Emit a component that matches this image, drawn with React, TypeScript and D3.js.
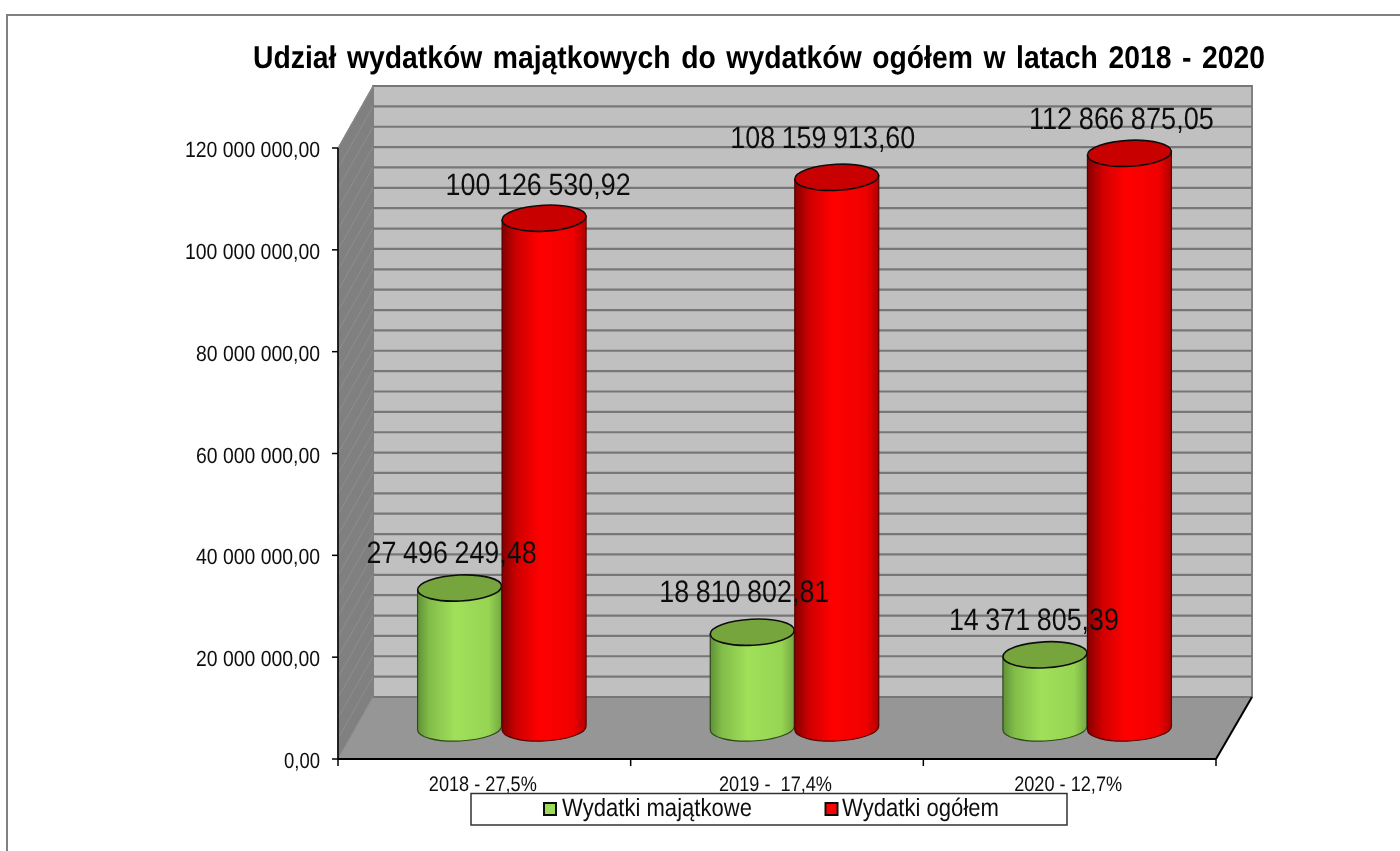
import React from "react";
import * as d3 from "d3";

const categories = ["2018 - 27,5%", "2019 -  17,4%", "2020 - 12,7%"];
const seriesNames = ["Wydatki majątkowe", "Wydatki ogółem"];
const wydatkiMajatkowe = [27496249.48, 18810802.81, 14371805.39];
const wydatkiOgolem = [100126530.92, 108159913.6, 112866875.05];
const valueLabelsMajatkowe = ["27 496 249,48", "18 810 802,81", "14 371 805,39"];
const valueLabelsOgolem = ["100 126 530,92", "108 159 913,60", "112 866 875,05"];
const yTickLabels = ["0,00", "20 000 000,00", "40 000 000,00", "60 000 000,00", "80 000 000,00", "100 000 000,00", "120 000 000,00"];
const title = "Udział wydatków majątkowych do wydatków ogółem w latach 2018 - 2020";

const FONT = "'Liberation Sans', Arial, sans-serif";
const left = 338, right = 1216, y0 = 759, yTop = 148;
const dx = 35, dy = -62;

const y = d3.scaleLinear().domain([0, 120000000]).range([y0, yTop]);
const x = d3.scaleBand<string>().domain(categories).range([left, right]);
const xs = d3.scaleBand<string>().domain(seriesNames).range([-84.5, 84.5]);
const minor = d3.range(0, 120000001, 4000000);
const major = d3.range(0, 120000001, 20000000);

const RX = 42, RY = 13, TILT = -2.8, LIFT = 2;

function Cylinder({ cx, v, grad, top, edge }: { cx: number; v: number; grad: string; top: string; edge: string }) {
  const ty = y(v) + dy / 2;
  const by = y(0) + dy / 2;
  const d = `M${cx - RX},${ty + LIFT}L${cx - RX},${by + LIFT}A${RX},${RY} ${TILT} 0 0 ${cx + RX},${by - LIFT}L${cx + RX},${ty - LIFT}Z`;
  return (
    <g>
      <path d={d} fill={`url(#${grad})`} stroke={edge} strokeWidth={1.2} />
      <ellipse cx={cx} cy={ty} rx={RX} ry={RY} transform={`rotate(${TILT} ${cx} ${ty})`} fill={top} stroke="#101010" strokeWidth={1.6} />
    </g>
  );
}

export default function App() {
  const cx = (c: string) => (x(c) as number) + x.bandwidth() / 2 + dx / 2;
  const labelSpec = (text: string) => (text.length > 13 ? 185 : 170);
  const labelOffsetsM = [[-8, -25], [-8, -30], [-11, -25]];
  const labelOffsetsO = [[-6, -23], [-14, -29], [-8, -24]];
  const catLen = [108, 113, 108];
  const tickLen = (s: string) => (s.length > 13 ? 135 : s.length > 4 ? 124 : 36);
  return (
    <svg width={1400} height={851} style={{ position: "fixed", left: 0, top: 0, background: "#fff" }} fontFamily={FONT} textRendering="geometricPrecision">
      <defs>
        <linearGradient id="gGreen" x1="0" x2="1" y1="0" y2="0">
          <stop offset="0" stopColor="#5f9136" />
          <stop offset="0.14" stopColor="#82bd4a" />
          <stop offset="0.45" stopColor="#a0e05a" />
          <stop offset="0.85" stopColor="#96d452" />
          <stop offset="1" stopColor="#74a843" />
        </linearGradient>
        <linearGradient id="gRed" x1="0" x2="1" y1="0" y2="0">
          <stop offset="0" stopColor="#850000" />
          <stop offset="0.18" stopColor="#d00000" />
          <stop offset="0.45" stopColor="#ff0000" />
          <stop offset="0.85" stopColor="#f00000" />
          <stop offset="1" stopColor="#b00000" />
        </linearGradient>
        <filter id="soft" x="0" y="0" width="100%" height="100%">
          <feGaussianBlur stdDeviation="0.65" />
        </filter>
      </defs>
      <g filter="url(#soft)">
        <rect x={0} y={0} width={1400} height={851} fill="#fff" />
        <path d="M7,851V15H1400" fill="none" stroke="#808080" strokeWidth={2} />
        <text x={759} y={68} textAnchor="middle" fontSize={31.5} fontWeight="bold" fill="#000" wordSpacing={3} textLength={1012} lengthAdjust="spacingAndGlyphs">{title}</text>

        {/* walls */}
        <polygon points={`${left + dx},${yTop + dy} ${right + dx + 1},${yTop + dy} ${right + dx + 1},${y0 + dy} ${left + dx},${y0 + dy}`} fill="#c0c0c0" stroke="#808080" strokeWidth={2} />
        <polygon points={`${left},${yTop} ${left + dx},${yTop + dy} ${left + dx},${y0 + dy} ${left},${y0}`} fill="#808080" stroke="#808080" />
        <polygon points={`${left},${y0} ${left + dx},${y0 + dy} ${right + dx + 1},${y0 + dy} ${right},${y0}`} fill="#969696" />
        {minor.map((v) => (
          <g key={v}>
            <line x1={left + dx} x2={right + dx + 1} y1={y(v) + dy} y2={y(v) + dy} stroke="#777" strokeWidth={2.2} />
            <line x1={left} x2={left + dx} y1={y(v)} y2={y(v) + dy} stroke="#8e8e8e" strokeWidth={1} />
          </g>
        ))}
        <line x1={right} x2={right + dx + 1} y1={y0} y2={y0 + dy} stroke="#000" strokeWidth={2} />

        {/* axes */}
        <line x1={left} x2={left} y1={yTop} y2={y0} stroke="#000" strokeWidth={1.6} />
        <line x1={left} x2={right} y1={y0} y2={y0} stroke="#000" strokeWidth={2} />
        {major.map((v, i) => (
          <g key={v}>
            <line x1={left - 6} x2={left} y1={y(v)} y2={y(v)} stroke="#000" strokeWidth={1.5} />
            <text x={320} y={y(v) + 9} textAnchor="end" fontSize={22} fill="#111" textLength={tickLen(yTickLabels[i])} lengthAdjust="spacingAndGlyphs">{yTickLabels[i]}</text>
          </g>
        ))}
        {[...categories.map((c) => x(c) as number), right].map((t) => (
          <line key={t} x1={t} x2={t} y1={y0} y2={y0 + 7} stroke="#000" strokeWidth={1.5} />
        ))}
        {categories.map((c, i) => (
          <text key={c} x={(x(c) as number) + x.bandwidth() / 2 - 1.5} y={791} textAnchor="middle" fontSize={21} fill="#111" style={{ whiteSpace: "pre" }} textLength={catLen[i]} lengthAdjust="spacingAndGlyphs">{c}</text>
        ))}

        {/* cylinders */}
        {categories.map((c, i) => (
          <g key={c}>
            <Cylinder cx={cx(c) + (xs(seriesNames[0]) as number) + xs.bandwidth() / 2} v={wydatkiMajatkowe[i]} grad="gGreen" top="#76a53c" edge="#2f4a18" />
            <Cylinder cx={cx(c) + (xs(seriesNames[1]) as number) + xs.bandwidth() / 2} v={wydatkiOgolem[i]} grad="gRed" top="#c80000" edge="#5a0000" />
          </g>
        ))}

        {/* value labels */}
        {categories.map((c, i) => {
          const mx = cx(c) + (xs(seriesNames[0]) as number) + xs.bandwidth() / 2 + labelOffsetsM[i][0];
          const ox = cx(c) + (xs(seriesNames[1]) as number) + xs.bandwidth() / 2 + labelOffsetsO[i][0];
          return (
            <g key={c} fontSize={31} fill="#111" wordSpacing={-1}>
              <text x={mx} y={y(wydatkiMajatkowe[i]) + dy / 2 + labelOffsetsM[i][1]} textAnchor="middle" textLength={labelSpec(valueLabelsMajatkowe[i])} lengthAdjust="spacingAndGlyphs">{valueLabelsMajatkowe[i]}</text>
              <text x={ox} y={y(wydatkiOgolem[i]) + dy / 2 + labelOffsetsO[i][1]} textAnchor="middle" textLength={labelSpec(valueLabelsOgolem[i])} lengthAdjust="spacingAndGlyphs">{valueLabelsOgolem[i]}</text>
            </g>
          );
        })}

        {/* legend */}
        <rect x={471} y={793.5} width={596} height={31.5} fill="#fff" stroke="#333" strokeWidth={1.5} />
        <rect x={544} y={803} width={12} height={12} fill="#9bdc58" stroke="#111" strokeWidth={2} />
        <text x={562} y={815.5} fontSize={25} fill="#111" textLength={190} lengthAdjust="spacingAndGlyphs">{seriesNames[0]}</text>
        <rect x={825.5} y={803} width={12} height={12} fill="#ff0000" stroke="#111" strokeWidth={2} />
        <text x={842} y={815.5} fontSize={25} fill="#111" textLength={157} lengthAdjust="spacingAndGlyphs">{seriesNames[1]}</text>
      </g>
    </svg>
  );
}
